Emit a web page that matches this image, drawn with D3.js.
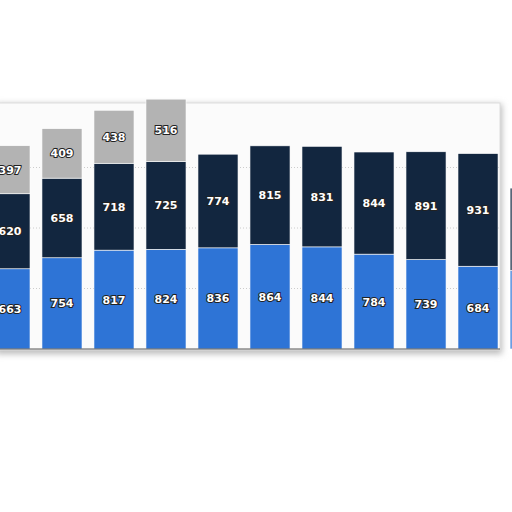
<!DOCTYPE html>
<html><head><meta charset="utf-8">
<script src="https://cdn.jsdelivr.net/npm/d3@7"></script>
<style>body{margin:0;background:#fff}svg{display:block}</style>
</head><body>
<script>
const categories = ["C1","C2","C3","C4","C5","C6","C7","C8","C9","C10","C11"];
const seriesA = [663,754,817,824,836,864,844,784,739,684,650];
const seriesB = [620,658,718,725,774,815,831,844,891,931,680];
const seriesC = [397,409,438,516,0,0,0,0,0,0,0];
const gridTicks = [500,1000,1500];
const colors = ["#2e74d6","#12263f","#b3b3b3"];

const W=512,H=512;
const svg=d3.select("body").append("svg").attr("width",W).attr("height",H);
const defs=svg.append("defs");
defs.append("filter").attr("id","blur").attr("x","-10%").attr("y","-10%").attr("width","120%").attr("height","130%")
  .append("feGaussianBlur").attr("stdDeviation",3);

const x=d3.scaleBand().domain(categories).range([-22,562]).paddingInner(0.23).paddingOuter(0.23);
const y=d3.scaleLinear().domain([0,2000]).range([349,107]);

svg.append("rect").attr("x",-4).attr("y",104).attr("width",506).attr("height",250).attr("fill","#bbb").attr("filter","url(#blur)");
svg.append("rect").attr("x",-4).attr("y",103).attr("width",504).attr("height",247).attr("fill","#fbfbfb").attr("stroke","#ddd");

svg.append("g").selectAll("line").data(gridTicks).join("line")
  .attr("x1",0).attr("x2",500).attr("y1",d=>y(d)).attr("y2",d=>y(d))
  .attr("stroke","#ccc").attr("stroke-dasharray","1,2");

const data=categories.map((c,i)=>({c,a:seriesA[i],b:seriesB[i],g:seriesC[i]}));
const stack=d3.stack().keys(["a","b","g"])(data);
const font="'DejaVu Sans', sans-serif";
const last=categories[categories.length-1];
stack.forEach((layer,li)=>{
  const g=svg.append("g");
  g.selectAll("rect").data(layer.filter(d=>d[1]>d[0])).join("rect")
    .attr("x",d=>x(d.data.c)).attr("width",x.bandwidth())
    .attr("y",d=>y(d[1])).attr("height",d=>y(d[0])-y(d[1]))
    .attr("fill",colors[li]).attr("stroke","#fff").attr("stroke-width",0.6)
    .attr("opacity",d=>d.data.c===last?0.7:1);
  g.selectAll("text").data(layer.filter(d=>d[1]>d[0]&&d.data.c!==last)).join("text")
    .attr("x",d=>x(d.data.c)+x.bandwidth()/2).attr("y",d=>(y(d[0])+y(d[1]))/2+4)
    .attr("text-anchor","middle").attr("font-family",font).attr("font-weight","bold").attr("font-size",11)
    .attr("fill","#fff").attr("stroke","#222").attr("stroke-width",2).attr("paint-order","stroke")
    .text(d=>d[1]-d[0]);
});
svg.append("line").attr("x1",0).attr("x2",500).attr("y1",y(0)).attr("y2",y(0)).attr("stroke","#555").attr("stroke-width",1);
</script>
</body></html>
